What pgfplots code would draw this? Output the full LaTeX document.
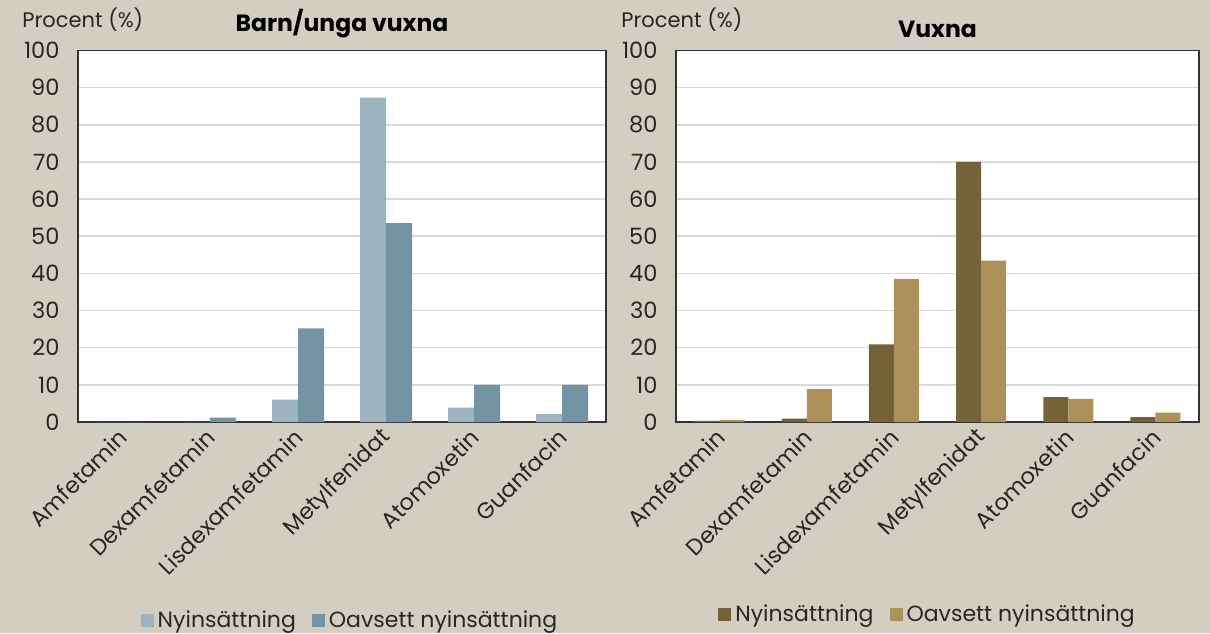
\documentclass[border=0pt]{standalone}
\usepackage{pgfplots}
\pgfplotsset{compat=1.18}
\usepackage{fontspec}
\setmainfont{Poppins}

\definecolor{bg}{HTML}{D2CFC2}
\definecolor{txt}{HTML}{262626}
\definecolor{blLight}{HTML}{9BB4BF}
\definecolor{blDark}{HTML}{7594A3}
\definecolor{brDark}{HTML}{756239}
\definecolor{brLight}{HTML}{AE905A}

\pgfplotsset{
  adhd/.style={
    ybar=0pt,
    scale only axis,
    height=371.6pt,
    ymin=0, ymax=100,
    ytick={0,10,...,100},
    xmin=-0.5, xmax=5.5,
    xtick={0,...,5},
    xticklabels={Amfetamin,Dexamfetamin,Lisdexamfetamin,Metylfenidat,Atomoxetin,Guanfacin},
    major tick length=0pt,
    axis background/.style={fill=white},
    axis line style={draw=black!80, line width=1.3pt},
    ymajorgrids,
    grid style={draw=black!15, line width=1.6pt},
    /pgf/number format/assume math mode=true,
    yticklabel style={font=\fontsize{22.5}{26}\selectfont, text=txt, xshift=-15pt},
    xticklabel style={font=\fontsize{22.5}{26}\selectfont, text=txt, rotate=45, anchor=east, xshift=-4pt, yshift=-9pt},
    title style={font=\bfseries\fontsize{23.5}{27}\selectfont, text=black, anchor=south, at={(0.5,1)}, yshift=3pt},
    ylabel style={font=\fontsize{21}{25}\selectfont, text=txt, rotate=-90, anchor=west},
    legend style={draw=none, fill=none, anchor=center, font=\fontsize{22}{26}\selectfont, text=txt,
      legend columns=2, nodes={inner xsep=4pt}, /tikz/every even column/.append style={column sep=12pt}},
    legend image code/.code={\fill[##1] (0pt,-6.5pt) rectangle (13pt,6.5pt);},
  }
}

\begin{document}
\begin{tikzpicture}
\fill[bg] (0,0) rectangle (1210pt,633pt);

\begin{axis}[adhd,
  at={(78pt,211pt)}, anchor=south west,
  width=528pt, bar width=26pt,
  title={Barn/unga vuxna},
  ylabel={Procent (\%)},
  ylabel style={at={(axis description cs:-0.112,1.082)}},
  legend style={at={(axis description cs:0.517,-0.533)}},
]
\addplot[fill=blLight, draw=none] coordinates {(0,0) (1,0) (2,6.0) (3,87.3) (4,3.9) (5,2.1)};
\addplot[fill=blDark, draw=none] coordinates {(0,0) (1,1.2) (2,25.2) (3,53.5) (4,10.0) (5,10.0)};
\legend{Nyinsättning, Oavsett nyinsättning}
\end{axis}

\begin{axis}[adhd,
  at={(676pt,211pt)}, anchor=south west,
  width=523pt, bar width=25pt,
  title={Vuxna},
  ylabel={Procent (\%)},
  ylabel style={at={(axis description cs:-0.111,1.082)}},
  legend style={at={(axis description cs:0.483,-0.517)}},
]
\addplot[fill=brDark, draw=none] coordinates {(0,0.3) (1,0.9) (2,20.9) (3,70.0) (4,6.7) (5,1.3)};
\addplot[fill=brLight, draw=none] coordinates {(0,0.6) (1,8.9) (2,38.5) (3,43.4) (4,6.2) (5,2.5)};
\legend{Nyinsättning, Oavsett nyinsättning}
\end{axis}

\pgfresetboundingbox
\useasboundingbox (0,0) rectangle (1210pt,633pt);
\end{tikzpicture}
\end{document}
